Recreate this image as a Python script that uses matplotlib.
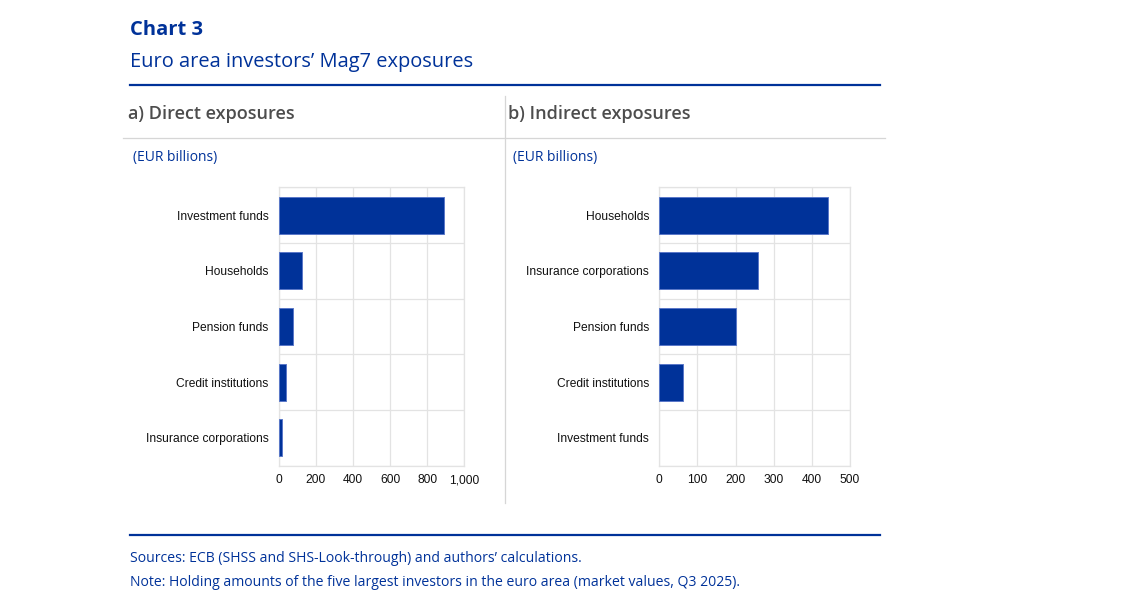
import matplotlib
matplotlib.use("Agg")
import matplotlib.pyplot as plt
from matplotlib.lines import Line2D
from matplotlib.transforms import blended_transform_factory, offset_copy
import numpy as np

# ---- data ----
direct_categories = ["Investment funds", "Households", "Pension funds",
                     "Credit institutions", "Insurance corporations"]
direct_values = [890, 126, 77, 38, 20]
direct_ticks = [0, 200, 400, 600, 800, 1000]

indirect_categories = ["Households", "Insurance corporations", "Pension funds",
                       "Credit institutions", "Investment funds"]
indirect_values = [443, 260, 200, 61, 0]
indirect_ticks = [0, 100, 200, 300, 400, 500]

W, H = 1125, 594
fig = plt.figure(figsize=(W / 100, H / 100), dpi=100)
fig.patch.set_facecolor("white")

BLUE = "#003299"
GRID = "#e3e3e3"
HEAD = "Open Sans"
TICKF = "Liberation Sans"


def px(x, y):
    return x / W, 1 - y / H


def hline(x0, x1, y, color, lw):
    a, b = px(x0, y)
    c, _ = px(x1, y)
    fig.add_artist(Line2D([a, c], [b, b], color=color, lw=lw, transform=fig.transFigure))


def vline(x, y0, y1, color, lw):
    a, b = px(x, y0)
    _, d = px(x, y1)
    fig.add_artist(Line2D([a, a], [b, d], color=color, lw=lw, transform=fig.transFigure))


def text(x, y, s, **kw):
    a, b = px(x, y)
    fig.text(a, b, s, **kw)


# header
text(130, 30, "Chart 3", family=HEAD, fontsize=14.5, fontweight="bold", color=BLUE, va="center")
text(130, 62, "Euro area investors\u2019 Mag7 exposures", family=HEAD, fontsize=14.4, color=BLUE, va="center")
hline(130, 880, 84.5, BLUE, 1.6)
text(128, 114, "a) Direct exposures", family=HEAD, fontsize=13, fontweight="semibold", color="#4d4d4d", va="center")
text(508, 114, "b) Indirect exposures", family=HEAD, fontsize=13, fontweight="semibold", color="#4d4d4d", va="center")
hline(123, 885, 138, "#d6d6d6", 0.9)
vline(505, 96, 503, "#d6d6d6", 0.9)
text(133, 157.5, "(EUR billions)", family=HEAD, fontsize=10, color=BLUE, va="center")
text(513, 157.5, "(EUR billions)", family=HEAD, fontsize=10, color=BLUE, va="center")

# footer
hline(130, 880, 534.5, BLUE, 1.6)
text(130, 559, "Sources: ECB (SHSS and SHS-Look-through) and authors\u2019 calculations.",
     family=HEAD, fontsize=10.1, color=BLUE, va="center")
text(130, 582, "Note: Holding amounts of the five largest investors in the euro area (market values, Q3 2025).",
     family=HEAD, fontsize=10.1, color=BLUE, va="center")


def panel(x0, x1, cats, vals, ticks):
    l, b = px(x0, 465.7)
    w = (x1 - x0) / W
    h = (465.7 - 187.3) / H
    ax = fig.add_axes([l, b, w, h])
    y = np.arange(len(cats))
    lws = [0.7 if v > 0 else 0 for v in vals]
    ax.barh(y, vals, height=0.66, color=BLUE, edgecolor="#5a78c8", linewidth=lws, zorder=3)
    ax.set_ylim(len(cats) - 0.5, -0.5)
    ax.set_xlim(ticks[0], ticks[-1])
    ax.set_yticks(y)
    ax.set_yticklabels(cats, family=TICKF, fontsize=8.65, color="#111111")
    ax.set_xticks(ticks)
    ax.set_xticklabels([])
    trans = offset_copy(blended_transform_factory(ax.transData, ax.transAxes),
                        fig=fig, x=0, y=-17.5, units="dots")
    for t in ticks:
        ax.text(t, 0, f"{int(t):,}", transform=trans, ha="center", va="baseline",
                family=TICKF, fontsize=8.65, color="#111111", clip_on=False)
    ax.set_yticks(np.arange(len(cats) + 1) - 0.5, minor=True)
    ax.tick_params(axis="both", which="both", length=0)
    ax.tick_params(axis="y", pad=7.5)
    ax.grid(axis="x", which="major", color=GRID, lw=0.9, zorder=0)
    ax.grid(axis="y", which="minor", color=GRID, lw=0.9, zorder=0)
    for s in ax.spines.values():
        s.set_color(GRID)
        s.set_linewidth(0.9)
    return ax


panel(278.7, 464.3, direct_categories, direct_values, direct_ticks)
panel(659.3, 850.0, indirect_categories, indirect_values, indirect_ticks)

fig.savefig("out.png", dpi=100, facecolor="white")
